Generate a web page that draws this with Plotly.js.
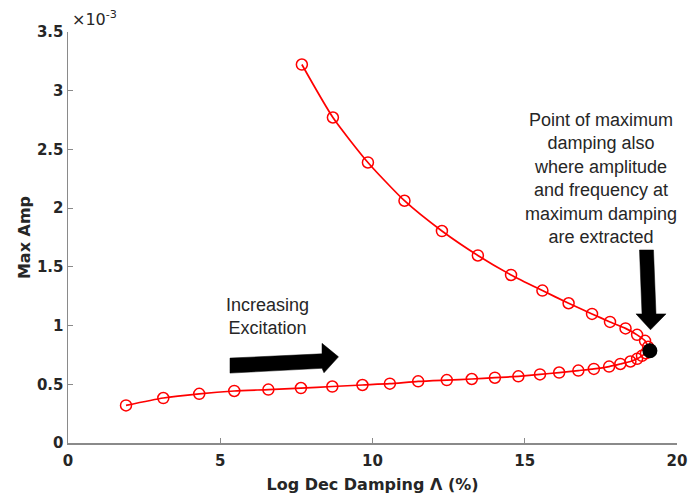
<!DOCTYPE html>
<html>
<head>
<meta charset="utf-8">
<script src="https://cdn.plot.ly/plotly-3.0.1.min.js"></script>
<style>html,body{margin:0;padding:0;background:#fff;}#chart{width:688px;height:496px;}</style>
</head>
<body>
<div id="chart"></div>
<script>
// Lower branch (increasing excitation), Log Dec Damping (%) vs Max Amp (x 1e-3)
var lowerX = [1.905, 3.13, 4.31, 5.46, 6.58, 7.65, 8.68, 9.67, 10.57, 11.50, 12.44, 13.26, 14.02, 14.79, 15.50, 16.13, 16.76, 17.27, 17.77, 18.14, 18.47, 18.69, 18.85, 18.98];
var lowerY = [0.320, 0.383, 0.419, 0.443, 0.455, 0.468, 0.481, 0.494, 0.505, 0.525, 0.536, 0.545, 0.556, 0.568, 0.584, 0.600, 0.617, 0.631, 0.651, 0.673, 0.694, 0.717, 0.742, 0.764];
// Point of maximum damping
var peakX = [19.11];
var peakY = [0.785];
// Upper branch
var upperX = [19.05, 18.95, 18.69, 18.31, 17.80, 17.21, 16.44, 15.58, 14.55, 13.46, 12.28, 11.05, 9.85, 8.70, 7.68];
var upperY = [0.819, 0.870, 0.921, 0.976, 1.031, 1.099, 1.190, 1.298, 1.431, 1.597, 1.805, 2.063, 2.389, 2.772, 3.223];

var xTicks = [0, 5, 10, 15, 20];
var yTicks = [0, 0.5, 1, 1.5, 2, 2.5, 3, 3.5];

var xTitle = 'Log Dec Damping \u039B (%)';
var yTitle = 'Max Amp';
var exponentLabel = '\u00D710<sup>-3</sup>';
var noteText = 'Point of maximum<br>damping also<br>where amplitude<br>and frequency at<br>maximum damping<br>are extracted';
var arrowText = 'Increasing<br>Excitation';

var allX = lowerX.concat(peakX, upperX);
var allY = lowerY.concat(peakY, upperY);

var traces = [
  {
    x: allX, y: allY, type: 'scatter', mode: 'lines+markers',
    line: {color: '#ff0000', width: 1.7, shape: 'spline', smoothing: 0.6},
    marker: {symbol: 'circle-open', size: 11, color: '#ff0000', line: {width: 1.5, color: '#ff0000'}},
    hoverinfo: 'skip', showlegend: false
  },
  {
    x: peakX, y: peakY, type: 'scatter', mode: 'markers',
    marker: {symbol: 'circle', size: 15, color: '#000000'},
    hoverinfo: 'skip', showlegend: false
  }
];

var tickFont = {family: 'DejaVu Sans', size: 15, color: '#262626', weight: 'bold'};
var titleFont = {family: 'DejaVu Sans', size: 16, color: '#262626', weight: 'bold'};
var noteFont = {family: 'Liberation Sans, Arial', size: 18, color: '#262626'};

var layout = {
  width: 688, height: 496,
  margin: {l: 68, r: 11, t: 32, b: 53, pad: 0},
  paper_bgcolor: '#ffffff', plot_bgcolor: '#ffffff',
  showlegend: false,
  xaxis: {
    range: [0, 20], tickvals: xTicks, ticktext: xTicks.map(String),
    showgrid: false, zeroline: false, showline: true, linecolor: '#8a8a8a', linewidth: 1.5,
    ticks: 'inside', ticklen: 5, tickcolor: '#8a8a8a', tickwidth: 1,
    tickfont: tickFont, automargin: false, ticklabelstandoff: 3,
    title: {text: xTitle, font: titleFont, standoff: 10}
  },
  yaxis: {
    range: [0, 3.5], tickvals: yTicks, ticktext: yTicks.map(String),
    showgrid: false, zeroline: false, showline: true, linecolor: '#8a8a8a', linewidth: 1.5,
    ticks: 'inside', ticklen: 5, tickcolor: '#8a8a8a', tickwidth: 1,
    tickfont: tickFont, automargin: false,
    title: {text: yTitle, font: titleFont, standoff: 2}
  },
  shapes: [
    {type: 'path', xref: 'x', yref: 'y', fillcolor: '#000000', line: {color: '#000000', width: 0.5},
     path: 'M5.32,0.7228 L8.342,0.7594 L8.342,0.8486 L8.883,0.7338 L8.407,0.5978 L8.342,0.6361 L5.32,0.5952 Z'},
    {type: 'path', xref: 'x', yref: 'y', fillcolor: '#000000', line: {color: '#000000', width: 0.5},
     path: 'M18.768,1.6437 L19.228,1.6437 L19.310,1.0995 L19.639,1.0995 L19.130,0.9634 L18.654,1.0995 L18.851,1.0995 Z'}
  ],
  annotations: [
    {text: exponentLabel, xref: 'paper', yref: 'paper', x: 0.004, y: 1.033, xanchor: 'left', yanchor: 'middle',
     showarrow: false, font: {family: 'DejaVu Sans', size: 16, color: '#262626'}},
    {text: noteText, xref: 'paper', yref: 'paper', x: (600.5 - 68) / 609, y: (443.3 - 178.5) / 411.6,
     xanchor: 'center', yanchor: 'middle', showarrow: false, align: 'center', font: noteFont},
    {text: arrowText, xref: 'paper', yref: 'paper', x: (267.5 - 68) / 609, y: (443.3 - 316.7) / 411.6,
     xanchor: 'center', yanchor: 'middle', showarrow: false, align: 'center', font: noteFont}
  ]
};

Plotly.newPlot('chart', traces, layout, {staticPlot: true, displayModeBar: false});
</script>
</body>
</html>
